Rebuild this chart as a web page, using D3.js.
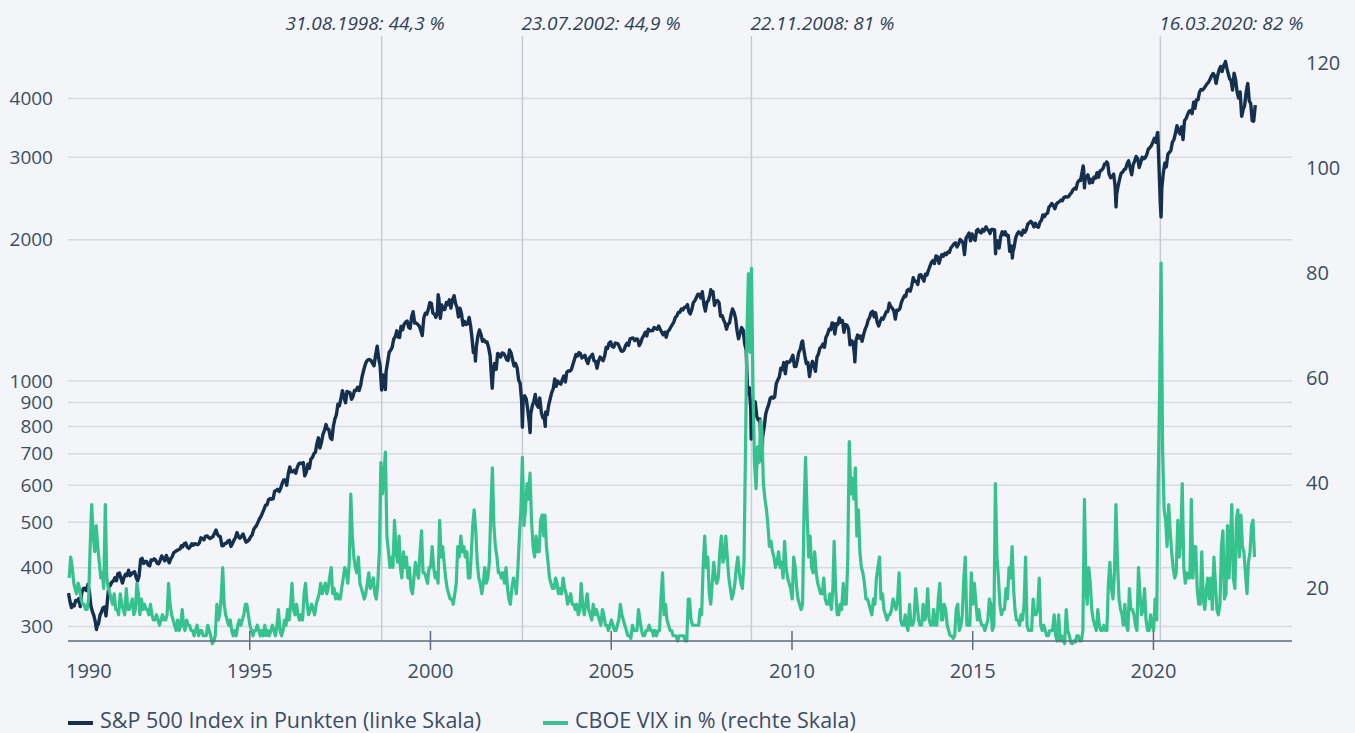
<!DOCTYPE html>
<html><head><meta charset="utf-8">
<script src="https://cdn.jsdelivr.net/npm/d3@7"></script>
<style>
html,body{margin:0;padding:0;background:#f3f5f8;}
svg{display:block;font-family:"Open Sans",sans-serif;}
</style></head><body>
<svg id="chart" width="1355" height="733"></svg>
<script>
// ---------------- DATA ----------------
const spStartValue = 353.4; // value on 1990-01-01
// S&P 500 month-end closes, Jan 1990 .. Oct 2022
const spMonthEndCloses = [
329.08,331.89,339.94,330.80,361.23,358.02,356.15,322.56,306.05,304.00,322.22,330.22,
343.93,367.07,375.22,375.35,389.83,371.16,387.81,395.43,387.86,392.46,375.22,417.09,
408.79,412.70,403.69,414.95,415.35,408.14,424.21,414.03,417.80,418.68,431.35,435.71,
438.78,443.38,451.67,440.19,450.19,450.53,448.13,463.56,458.93,467.83,461.79,466.45,
481.61,467.14,445.77,450.91,456.50,444.27,458.26,475.49,462.69,472.35,453.69,459.27,
470.42,487.39,500.71,514.71,533.40,544.75,562.06,561.88,584.41,581.50,605.37,615.93,
636.02,640.43,645.50,654.17,669.12,670.63,639.95,651.99,687.33,705.27,757.02,740.74,
786.16,790.82,757.12,801.34,848.28,885.14,954.29,899.47,947.28,914.62,955.40,970.43,
980.28,1049.34,1101.75,1111.75,1090.82,1133.84,1120.67,957.28,1017.01,1098.67,1163.63,1229.23,
1279.64,1238.33,1286.37,1335.18,1301.84,1372.71,1328.72,1320.41,1282.71,1362.93,1388.91,1469.25,
1394.46,1366.42,1498.58,1452.43,1420.60,1454.60,1430.83,1517.68,1436.51,1429.40,1315.23,1320.28,
1366.01,1239.94,1160.33,1249.46,1255.82,1224.42,1211.23,1133.58,1040.94,1059.78,1139.45,1148.08,
1130.20,1106.73,1147.39,1076.92,1067.14,989.82,911.62,916.07,815.28,885.76,936.31,879.82,
855.70,841.15,848.18,916.92,963.59,974.50,990.31,1008.01,995.97,1050.71,1058.20,1111.92,
1131.13,1144.94,1126.21,1107.30,1120.68,1140.84,1101.72,1104.24,1114.58,1130.20,1173.82,1211.92,
1181.27,1203.60,1180.59,1156.85,1191.50,1191.33,1234.18,1220.33,1228.81,1207.01,1249.48,1248.29,
1280.08,1280.66,1294.83,1310.61,1270.09,1270.20,1276.66,1303.82,1335.85,1377.94,1400.63,1418.30,
1438.24,1406.82,1420.86,1482.37,1530.62,1503.35,1455.27,1473.99,1526.75,1549.38,1481.14,1468.36,
1378.55,1330.63,1322.70,1385.59,1400.38,1280.00,1267.38,1282.83,1166.36,968.75,896.24,903.25,
825.88,735.09,797.87,872.81,919.14,919.32,987.48,1020.62,1057.08,1036.19,1095.63,1115.10,
1073.87,1104.49,1169.43,1186.69,1089.41,1030.71,1101.60,1049.33,1141.20,1183.26,1180.55,1257.64,
1286.12,1327.22,1325.83,1363.61,1345.20,1320.64,1292.28,1218.89,1131.42,1253.30,1246.96,1257.60,
1312.41,1365.68,1408.47,1397.91,1310.33,1362.16,1379.32,1406.58,1440.67,1412.16,1416.18,1426.19,
1498.11,1514.68,1569.19,1597.57,1630.74,1606.28,1685.73,1632.97,1681.55,1756.54,1805.81,1848.36,
1782.59,1859.45,1872.34,1883.95,1923.57,1960.23,1930.67,2003.37,1972.29,2018.05,2067.56,2058.90,
1994.99,2104.50,2067.89,2085.51,2107.39,2063.11,2103.84,1972.18,1920.03,2079.36,2080.41,2043.94,
1940.24,1932.23,2059.74,2065.30,2096.95,2098.86,2173.60,2170.95,2168.27,2126.15,2198.81,2238.83,
2278.87,2363.64,2362.72,2384.20,2411.80,2423.41,2470.30,2471.65,2519.36,2575.26,2647.58,2673.61,
2823.81,2713.83,2640.87,2648.05,2705.27,2718.37,2816.29,2901.52,2913.98,2711.74,2760.17,2506.85,
2704.10,2784.49,2834.40,2945.83,2752.06,2941.76,2980.38,2926.46,2976.74,3037.56,3140.98,3230.78,
3225.52,2954.22,2584.59,2912.43,3044.31,3100.29,3271.12,3500.31,3363.00,3269.96,3621.63,3756.07,
3714.24,3811.15,3972.89,4181.17,4204.11,4297.50,4395.26,4522.68,4307.54,4605.38,4567.00,4766.18,
4515.55,4373.94,4530.41,4131.93,4132.15,3785.38,4130.29,3955.00,3585.62,3871.98
];
// S&P 500 mid-month (~15th) levels, Jan 1990 .. Oct 2022
const spMidMonth = [
340,334,341,344,354,362,367,332,316,300,317,329,
316,369,373,381,389,380,381,385,385,391,382,384,
419,413,406,416,418,409,415,419,425,410,423,433,
437,446,450,443,444,447,449,452,462,467,465,464,
474,471,466,446,451,458,451,464,466,467,462,456,
466,483,492,509,524,544,559,560,583,588,591,616,
600,656,641,636,666,667,628,665,682,700,736,720,
770,808,789,751,830,893,917,925,950,945,928,955,
955,1024,1079,1110,1107,1078,1180,1080,1030,1048,1152,1180,
1243,1241,1307,1322,1343,1295,1406,1330,1310,1250,1395,1420,
1465,1390,1390,1360,1420,1470,1490,1490,1465,1370,1390,1340,
1325,1310,1150,1190,1285,1215,1210,1180,1010,1090,1145,1125,
1145,1110,1165,1110,1090,1005,910,930,870,850,905,890,
920,835,860,890,945,1010,1000,985,1025,1045,1050,1085,
1140,1150,1120,1135,1090,1130,1105,1065,1125,1105,1180,1205,
1185,1205,1200,1160,1165,1205,1230,1235,1230,1190,1235,1270,
1290,1280,1300,1290,1290,1255,1240,1285,1320,1365,1400,1425,
1435,1455,1390,1470,1505,1530,1550,1410,1485,1545,1450,1485,
1375,1350,1290,1330,1425,1360,1230,1300,1200,940,875,870,
840,830,760,850,890,925,925,1005,1065,1095,1100,1100,
1135,1075,1150,1210,1135,1095,1065,1080,1125,1175,1200,1240,
1290,1330,1260,1320,1335,1270,1315,1195,1210,1220,1235,1215,
1290,1350,1400,1370,1335,1340,1355,1405,1465,1430,1355,1415,
1470,1520,1560,1555,1660,1630,1680,1660,1690,1720,1790,1780,
1840,1830,1845,1860,1880,1940,1970,1955,1990,1860,2040,1990,
2010,2095,2080,2105,2120,2095,2105,2100,1990,2030,2050,2040,
1890,1880,2020,2080,2045,2075,2160,2190,2130,2135,2180,2260,
2270,2350,2390,2330,2400,2430,2460,2465,2500,2555,2565,2675,
2790,2700,2750,2690,2720,2780,2800,2840,2905,2760,2730,2600,
2610,2775,2820,2905,2850,2890,3010,2850,3000,2990,3120,3170,
3290,3380,2400,2780,2860,3070,3225,3370,3400,3480,3590,3690,
3770,3930,3970,4125,4170,4250,4330,4470,4470,4470,4680,4700,
4660,4400,4170,4390,4010,3680,3860,4300,3900,3580
];
// intra-month turning points of the S&P 500
const spExtremes = [
["1990-07-16",369.0],["1990-10-11",295.5],["1998-07-17",1186.8],["1998-08-31",957.3],["1998-10-08",959.4],
["2000-03-24",1527.5],["2000-09-01",1520.8],["2001-04-04",1103.3],["2001-09-21",965.8],
["2002-07-23",797.7],["2002-10-09",776.8],["2003-03-11",800.7],["2007-10-09",1565.2],
["2008-11-20",752.4],["2009-03-09",676.5],["2010-04-23",1217.3],["2010-07-02",1022.6],
["2011-04-29",1363.6],["2011-10-03",1099.2],["2015-05-21",2130.8],["2015-08-25",1867.6],
["2016-02-11",1829.1],["2018-01-26",2872.9],["2018-02-08",2581.0],["2018-09-20",2930.8],
["2018-12-24",2351.1],["2020-02-19",3386.2],["2020-03-23",2237.4],["2022-01-03",4796.6],
["2022-06-16",3666.8],["2022-08-16",4305.2],["2022-10-12",3577.0]
];
// CBOE VIX, two readings per month (~8th and ~23rd), Jan 1990 .. Oct 2022
const vixHalfMonth = [
22,26, 24,21, 20,19, 21,20, 18,17, 17,16, 16,18, 28,36, 30,27, 32,28, 25,22, 23,20,
36,22, 20,19, 18,17, 19,16, 16,15, 19,17, 16,15, 20,16, 16,17, 18,15, 16,21, 19,15,
18,16, 17,16, 16,15, 17,15, 14,14, 15,14, 13,14, 15,14, 14,15, 21,17, 15,14, 13,12,
14,12, 13,16, 13,12, 14,13, 13,12, 12,11, 12,13, 11,12, 12,11, 11,11, 13,12, 11,9.5,
10,11, 17,14, 15,18, 24,17, 15,14, 13,14, 12,11, 12,11, 13,14, 13,14, 15,17, 17,15,
13,12, 11,12, 12,13, 12,11, 12,11, 13,11, 12,11, 12,13, 12,11, 13,16, 12,11, 12,14,
13,16, 14,17, 21,16, 15,17, 15,14, 15,14, 19,21, 17,15, 16,17, 16,15, 17,18, 19,21,
19,20, 21,19, 20,22, 24,19, 20,18, 19,18, 18,20, 22,24, 23,21, 25,38, 30,26, 24,23,
26,21, 20,19, 18,19, 21,23, 20,21, 22,19, 18,21, 27,44, 38,42, 46,30, 27,24, 26,24,
33,27, 25,30, 24,22, 27,24, 26,22, 24,20, 19,22, 25,23, 22,27, 31,23, 23,22, 21,24,
24,28, 24,22, 23,21, 33,26, 28,25, 22,20, 19,18, 18,17, 19,21, 28,26, 30,27, 28,26,
27,22, 22,27, 32,35, 31,25, 22,21, 19,21, 24,21, 22,25, 35,43, 32,28, 26,23, 23,22,
23,21, 24,20, 18,17, 20,22, 21,19, 24,30, 35,45, 32,35, 40,37, 42,33, 28,26, 30,27,
27,33, 34,30, 34,28, 25,22, 21,20, 20,22, 21,19, 20,19, 22,20, 19,17, 18,19, 17,17,
16,17, 15,16, 21,17, 15,17, 19,16, 15,14, 17,15, 16,15, 14,13, 16,15, 13,13, 12,13,
14,13, 12,12, 13,14, 17,15, 14,13, 12,11, 11,10.5, 13,12, 12,12, 16,14, 12,11, 11,12,
12,13, 12,12, 11,12, 11,12, 12,18, 23,15, 17,14, 13,12, 12,11, 11,11, 10,11, 11,11,
11,10, 10,18, 18,14, 13,13, 13,13, 13,16, 15,24, 30,24, 26,19, 17,21, 25,22, 21,22,
27,30, 25,26, 30,26, 22,20, 18,19, 21,24, 26,23, 21,20, 25,46, 69,80, 65,81, 58,44,
39,47, 44,52, 50,40, 37,35, 32,28, 29,27, 26,24, 25,27, 24,25, 22,29, 24,22, 21,20,
18,26, 24,20, 18,17, 16,17, 35,45, 34,26, 30,24, 23,27, 23,21, 20,19, 19,22, 18,17,
17,19, 16,20, 29,20, 15,15, 17,16, 21,17, 17,25, 48,38, 41,37, 43,30, 35,27, 24,23,
21,18, 18,17, 16,15, 18,17, 22,24, 26,18, 19,16, 15,14, 15,15, 16,18, 17,16, 18,23,
14,13, 13,15, 13,12, 17,13, 13,14, 20,17, 14,13, 13,17, 14,15, 20,14, 13,13, 16,13,
13,18, 21,14, 14,17, 16,13, 12,11, 11,10.5, 11,16, 17,12, 13,15, 22,26, 13,13, 13,23,
17,21, 17,14, 16,14, 13,13, 12,13, 14,18, 17,12, 13,40, 26,22, 17,15, 16,16, 20,18,
24,22, 28,20, 16,14, 14,13, 15,14, 17,26, 13,12, 12,12, 18,15, 15,16, 22,13, 12,13,
12,11, 11,12, 12,12, 15,11, 10,15, 10,11, 10,9.5, 16,12, 11,9.7, 9.5,10, 9.8,11, 11,10,
10,12, 37,20, 17,24, 21,16, 14,13, 12,16, 13,12, 12,13, 12,12, 21,25, 20,18, 23,36,
25,18, 16,15, 13,17, 13,12, 20,16, 16,15, 13,12, 24,19, 15,16, 20,14, 12,12, 15,13,
12,18, 14,40, 57,82, 46,35, 33,28, 36,31, 27,24, 22,23, 33,26, 29,40, 24,21, 23,22,
22,37, 22,28, 28,20, 17,17, 27,18, 16,20, 22,18, 22,16, 26,21, 16,15, 17,28, 31,18,
19,32, 22,30, 36,22, 20,33, 35,26, 34,28, 27,23, 19,25, 27,32, 33,26
];
const leftTickValues = [300,400,500,600,700,800,900,1000,2000,3000,4000];
const rightTickValues = [20,40,60,80,100,120];
const yearTickValues = [1990,1995,2000,2005,2010,2015,2020];
const eventDates = ["1998-08-31","2002-07-23","2008-11-22","2020-03-16"];
const eventLabels = ["31.08.1998: 44,3 %","23.07.2002: 44,9 %","22.11.2008: 81 %","16.03.2020: 82 %"];
const seriesNames = ["S&P 500 Index in Punkten (linke Skala)","CBOE VIX in % (rechte Skala)"];

// ---------------- BUILD ----------------
const parse = d3.timeParse("%Y-%m-%d");
let spPoints = [[new Date(1990,0,1), spStartValue]];
spMonthEndCloses.forEach((v,i)=>spPoints.push([new Date(1990, i+1, 0), v]));
spMidMonth.forEach((v,i)=>spPoints.push([new Date(1990, i, 15), v]));
spExtremes.forEach(d=>spPoints.push([parse(d[0]), d[1]]));
spPoints.sort((a,b)=>a[0]-b[0]);
const vixPoints = vixHalfMonth.map((v,i)=>[new Date(1990, Math.floor(i/2), i%2===0 ? 8 : 23), v]);

const svg = d3.select("#chart");
const x0 = 68, x1 = 1292, baseY = 641;
const x = d3.scaleTime().domain([new Date(1990,0,1), new Date(2023,10,6)]).range([68.5, 1292]);
const yL = d3.scaleLog().domain([300,4000]).range([626.5, 98.5]);
const yR = d3.scaleLinear().domain([20,120]).range([588.5, 63.5]);

const textCol = "#3b4d65";
const navy = "#15304f";
const green = "#36c28f";

// gridlines
svg.append("g").selectAll("line").data(leftTickValues).join("line")
  .attr("x1", x0).attr("x2", x1)
  .attr("y1", d=>yL(d)).attr("y2", d=>yL(d))
  .attr("stroke", "#d8dce2").attr("stroke-width", 1.5);

// event lines
const evDates = eventDates.map(parse);
svg.append("g").selectAll("line").data(evDates).join("line")
  .attr("x1", d=>x(d)).attr("x2", d=>x(d))
  .attr("y1", 36).attr("y2", baseY)
  .attr("stroke", "#c6ccd4").attr("stroke-width", 1.5);

svg.append("g").selectAll("text").data(eventLabels).join("text")
  .attr("x", (d,i)=> i===0 ? x(evDates[i]) + 63 : x(evDates[i]) - 1)
  .attr("y", 30)
  .attr("text-anchor", (d,i)=> i===0 ? "end" : "start")
  .attr("font-style", "italic").attr("font-size", 19).attr("fill", "#2d3f58")
  .text(d=>d);

// left axis
const gL = svg.append("g").attr("transform", `translate(${x0},0)`)
  .call(d3.axisLeft(yL).tickValues(leftTickValues).tickFormat(d3.format("d")).tickSize(0).tickPadding(15));
gL.select(".domain").remove();
gL.selectAll("text").attr("font-size", 19).attr("fill", textCol).attr("font-family", "Open Sans");

// right axis
const gR = svg.append("g").attr("transform", `translate(${x1},0)`)
  .call(d3.axisRight(yR).tickValues(rightTickValues).tickSize(0).tickPadding(14));
gR.select(".domain").remove();
gR.selectAll("text").attr("font-size", 20).attr("fill", textCol).attr("font-family", "Open Sans");

// lines
const lineSP = d3.line().x(d=>x(d[0])).y(d=>yL(d[1]));
const lineVIX = d3.line().x(d=>x(d[0])).y(d=>yR(d[1]));
svg.append("path").datum(spPoints).attr("d", lineSP)
  .attr("fill","none").attr("stroke", navy).attr("stroke-width", 3.4).attr("stroke-linejoin","round");
svg.append("path").datum(vixPoints).attr("d", lineVIX)
  .attr("fill","none").attr("stroke", green).attr("stroke-width", 3.2).attr("stroke-linejoin","round");

// bottom axis
svg.append("line").attr("x1", x0).attr("x2", x1).attr("y1", baseY).attr("y2", baseY)
  .attr("stroke", "#5b6b80").attr("stroke-width", 1.5);
const gB = svg.append("g").attr("transform", `translate(0,${baseY})`)
  .call(d3.axisBottom(x).tickValues(yearTickValues.map(y=>new Date(y,0,1))).tickFormat(d3.timeFormat("%Y")).tickSize(9));
gB.select(".domain").remove();
gB.selectAll(".tick line").attr("y1", -10).attr("y2", 9).attr("stroke", "#5b6b80").attr("stroke-width", 1.5)
  .attr("display", (d,i)=> i===0 ? "none" : null);
gB.selectAll(".tick text").attr("y", 37).attr("dy", 0)
  .attr("font-size", 20).attr("fill", textCol).attr("font-family", "Open Sans")
  .attr("text-anchor", (d,i)=> i===0 ? "start" : "middle")
  .attr("x", (d,i)=> i===0 ? -3 : 0);

// legend
const legendX = [68, 543];
const legendCols = [navy, green];
const lg = svg.append("g");
seriesNames.forEach((name,i)=>{
  lg.append("line").attr("x1", legendX[i]).attr("x2", legendX[i]+25).attr("y1", 723).attr("y2", 723)
    .attr("stroke", legendCols[i]).attr("stroke-width", 4);
  lg.append("text").attr("x", legendX[i]+32).attr("y", 728).attr("font-size", 21.5)
    .attr("fill", textCol).text(name);
});
</script>
</body></html>
